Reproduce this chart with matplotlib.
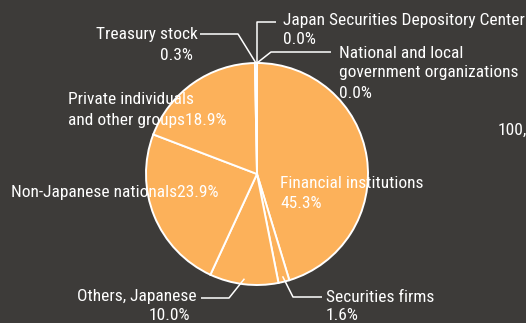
import numpy as np
import matplotlib
matplotlib.use("Agg")
import matplotlib.pyplot as plt

# Shareholder composition (percent of shares)
categories = [
    "Japan Securities Depository Center",
    "National and local government organizations",
    "Financial institutions",
    "Securities firms",
    "Others, Japanese",
    "Non-Japanese nationals",
    "Private individuals and other groups",
    "Treasury stock",
]
shares = [0.0, 0.0, 45.3, 1.6, 10.0, 23.9, 18.9, 0.3]
total_label = "100,"

BG = "#3d3b39"
ORANGE = "#fcb15a"
WHITE = "#ffffff"

W, H = 526, 323
plt.rcParams["font.family"] = ["Roboto Condensed", "DejaVu Sans"]
fig = plt.figure(figsize=(W / 100, H / 100), dpi=100, facecolor=BG)
ax = fig.add_axes([0, 0, 1, 1])
ax.set_facecolor(BG)

FS = 12.5


def py(y):
    """Convert a top-down pixel row into axis y."""
    return H - y


cx, cy, R = 257, py(174), 111
start = 90
wedges, _ = ax.pie(
    shares, startangle=start, counterclock=False,
    colors=[ORANGE] * len(shares), center=(cx, cy), radius=R,
    wedgeprops=dict(edgecolor=WHITE, linewidth=1.4), frame=True,
)
ax.set_xlim(0, W)
ax.set_ylim(0, H)
ax.set_aspect("equal")
ax.axis("off")

# mid-angle of each wedge (degrees, counterclockwise from +x)
bounds = start - np.concatenate([[0], np.cumsum(shares)]) * 3.6
mids = (bounds[:-1] + bounds[1:]) / 2


def edge(i, frac=1.0):
    a = np.deg2rad(mids[i])
    return cx + R * frac * np.cos(a), cy + R * frac * np.sin(a)


def leader(i, frac, pts):
    x0, y0 = edge(i, frac)
    xs = [x0] + [p[0] for p in pts]
    ys = [y0] + [py(p[1]) for p in pts]
    ax.plot(xs, ys, color=WHITE, lw=1.1, solid_capstyle="butt", zorder=5)


def txt(x, y, s, ha="left"):
    ax.text(x, py(y), s, color=WHITE, fontsize=FS, ha=ha, va="center", zorder=6)


def pct(v):
    return f"{v:.1f}%"


# Japan Securities Depository Center
leader(0, 1.0, [(257, 22), (276, 22)])
txt(283, 20, categories[0])
txt(283, 40, pct(shares[0]))

# National and local government organizations
leader(1, 1.0, [(271, 52), (331, 52)])
txt(339, 53, "National and local")
txt(339, 73, "government organizations")
txt(339, 93, pct(shares[1]))

# Financial institutions
txt(280, 183, categories[2])
txt(280, 203, pct(shares[2]))

# Securities firms
leader(3, 0.95, [(293, 297), (322, 297)])
txt(326, 297, categories[3])
txt(326, 316, pct(shares[3]))

# Others, Japanese
leader(4, 0.95, [(229, 298), (201, 298)])
txt(197, 297, categories[4], ha="right")
txt(190, 315, pct(shares[4]), ha="right")

# Non-Japanese nationals
txt(11, 192, categories[5] + pct(shares[5]))

# Private individuals and other groups
txt(68, 100, "Private individuals")
txt(68, 120, "and other groups" + pct(shares[6]))

# Treasury stock
leader(7, 1.0, [(238, 34), (200, 34)])
txt(198, 34, categories[7], ha="right")
txt(193, 56, pct(shares[7]), ha="right")

txt(498, 130, total_label)

fig.savefig("out.png", dpi=100, facecolor=BG)
